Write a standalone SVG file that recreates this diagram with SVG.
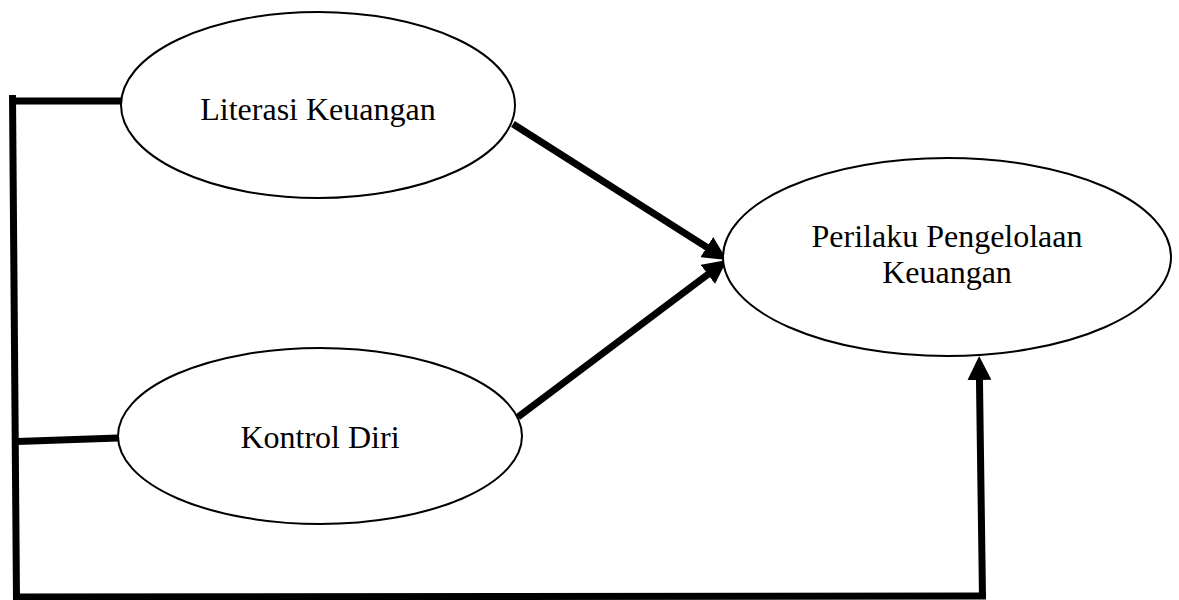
<svg xmlns="http://www.w3.org/2000/svg" width="1179" height="600" viewBox="0 0 1179 600">
  <style>
    .node ellipse { fill: #ffffff; stroke: #000000; stroke-width: 2; }
    .node text { font-family: "Liberation Serif", "Times New Roman", serif; font-size: 32px; fill: #000000; text-anchor: middle; }
    .conn { fill: none; stroke: #000000; stroke-width: 7; stroke-linecap: butt; stroke-linejoin: miter; }
  </style>
  <defs>
    <marker id="arrow" markerUnits="userSpaceOnUse" markerWidth="24" markerHeight="24" refX="12" refY="12" orient="auto">
      <path d="M0,0 L24,12 L0,24 z" fill="#000000"/>
    </marker>
  </defs>
  <rect width="1179" height="600" fill="#ffffff"/>

  <g id="connectors">
    <!-- bracket on the left -->
    <path class="conn" d="M12.5,95 L16.5,600"/>
    <path class="conn" d="M12,101 L122,101"/>
    <path class="conn" d="M17,441.5 L118,438"/>
    <path class="conn" d="M16,597 L986,596"/>
    <!-- arrows -->
    <path class="conn" d="M513,124 L716.9,253.6" marker-end="url(#arrow)"/>
    <path class="conn" d="M518,417 L717.4,267.2" marker-end="url(#arrow)"/>
    <path class="conn" d="M982.5,598 L979.3,368" marker-end="url(#arrow)"/>
  </g>

  <g id="node-literasi" class="node">
    <ellipse cx="318" cy="105" rx="197" ry="93"/>
    <text x="318" y="120">Literasi Keuangan</text>
  </g>

  <g id="node-kontrol" class="node">
    <ellipse cx="320" cy="436" rx="202" ry="88"/>
    <text x="320" y="448">Kontrol Diri</text>
  </g>

  <g id="node-perilaku" class="node">
    <ellipse cx="947" cy="257" rx="224" ry="99"/>
    <text x="947" y="247">Perilaku Pengelolaan</text>
    <text x="947" y="283">Keuangan</text>
  </g>
</svg>
